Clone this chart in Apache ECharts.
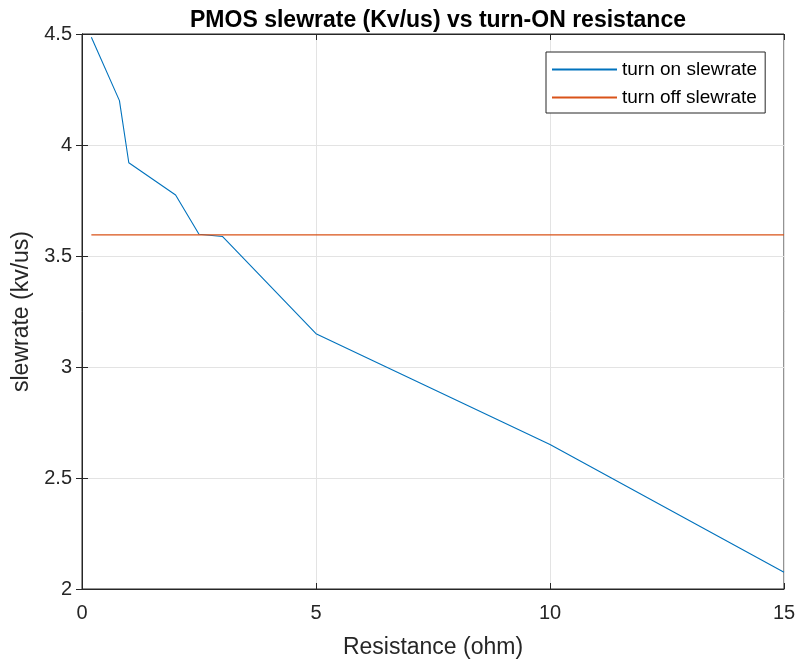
<!DOCTYPE html>
<html>
<head>
<meta charset="utf-8">
<script src="https://cdn.jsdelivr.net/npm/echarts@6/dist/echarts.min.js"></script>
<style>
html,body{margin:0;padding:0;background:#fff;}
#chart{width:799px;height:664px;}
</style>
</head>
<body>
<div id="chart"></div>
<script>
const resistance = [0.2, 0.8, 1, 2, 2.5, 3, 5, 10, 15];
const turnOnSlewrate = [4.485, 4.2, 3.92, 3.775, 3.598, 3.588, 3.15, 2.651, 2.075];
const turnOffSlewrate = [3.595, 3.595, 3.595, 3.595, 3.595, 3.595, 3.595, 3.595, 3.595];
const xTicks = [0, 5, 10, 15];
const yTicks = [2, 2.5, 3, 3.5, 4, 4.5];

const FONT = '"Liberation Sans", Arial, Helvetica, sans-serif';
const TXT = '#262626';

const chart = echarts.init(document.getElementById('chart'), null, {renderer: 'canvas'});

function pairs(xs, ys) { return xs.map((x, i) => [x, ys[i]]); }

const grid = {left: 82, right: 15, top: 34, bottom: 73, show: true, borderColor: TXT, borderWidth: 1, backgroundColor: '#fff'};

chart.setOption({
  animation: false,
  backgroundColor: '#fff',
  title: {
    text: 'PMOS slewrate (Kv/us) vs turn-ON resistance',
    left: 433, top: 4, textAlign: 'center',
    textStyle: {fontFamily: FONT, fontSize: 23, fontWeight: 'bold', color: '#000'}
  },
  grid: grid,
  legend: {
    orient: 'vertical',
    left: 546, top: 52,
    padding: [7, 8, 5, 6],
    itemGap: 7,
    itemWidth: 65, itemHeight: 2,
    icon: 'rect',
    borderColor: TXT, borderWidth: 1, backgroundColor: '#fff',
    textStyle: {fontFamily: FONT, fontSize: 19, color: '#000', lineHeight: 21},
    data: ['turn on slewrate', 'turn off slewrate']
  },
  xAxis: [{
    type: 'value', min: 0, max: 15, interval: 5,
    name: 'Resistance (ohm)', nameLocation: 'middle', nameGap: 47,
    nameTextStyle: {fontFamily: FONT, fontSize: 23, color: TXT},
    axisLine: {show: true, lineStyle: {color: TXT}},
    axisTick: {show: true, inside: true, length: 6, lineStyle: {color: TXT}},
    axisLabel: {fontFamily: FONT, fontSize: 20, color: TXT, margin: 14,
      formatter: v => xTicks.includes(v) ? String(v) : ''},
    splitLine: {show: true, lineStyle: {color: '#e3e3e3'}}
  }, {
    type: 'value', min: 0, max: 15, interval: 5, position: 'top',
    axisLine: {show: true, lineStyle: {color: TXT}},
    axisTick: {show: true, inside: true, length: 6, lineStyle: {color: TXT}},
    axisLabel: {show: false}, splitLine: {show: false}
  }],
  yAxis: [{
    type: 'value', min: 2, max: 4.5, interval: 0.5,
    name: 'slewrate (kv/us)', nameLocation: 'middle', nameGap: 48,
    nameTextStyle: {fontFamily: FONT, fontSize: 23, color: TXT},
    axisLine: {show: true, lineStyle: {color: TXT}},
    axisTick: {show: true, inside: true, length: 6, lineStyle: {color: TXT}},
    axisLabel: {fontFamily: FONT, fontSize: 20, color: TXT, margin: 10,
      formatter: v => yTicks.includes(v) ? String(v) : ''},
    splitLine: {show: true, lineStyle: {color: '#e3e3e3'}}
  }, {
    type: 'value', min: 2, max: 4.5, interval: 0.5, position: 'right',
    axisLine: {show: true, lineStyle: {color: TXT}},
    axisTick: {show: true, inside: true, length: 6, lineStyle: {color: TXT}},
    axisLabel: {show: false}, splitLine: {show: false}
  }],
  series: [{
    name: 'turn on slewrate', type: 'line', symbol: 'none',
    data: pairs(resistance, turnOnSlewrate),
    lineStyle: {color: '#0072BD', width: 1.1}, itemStyle: {color: '#0072BD'}
  }, {
    name: 'turn off slewrate', type: 'line', symbol: 'none',
    data: pairs(resistance, turnOffSlewrate),
    lineStyle: {color: '#D95319', width: 1.1}, itemStyle: {color: '#D95319'}
  }]
});
</script>
</body>
</html>
